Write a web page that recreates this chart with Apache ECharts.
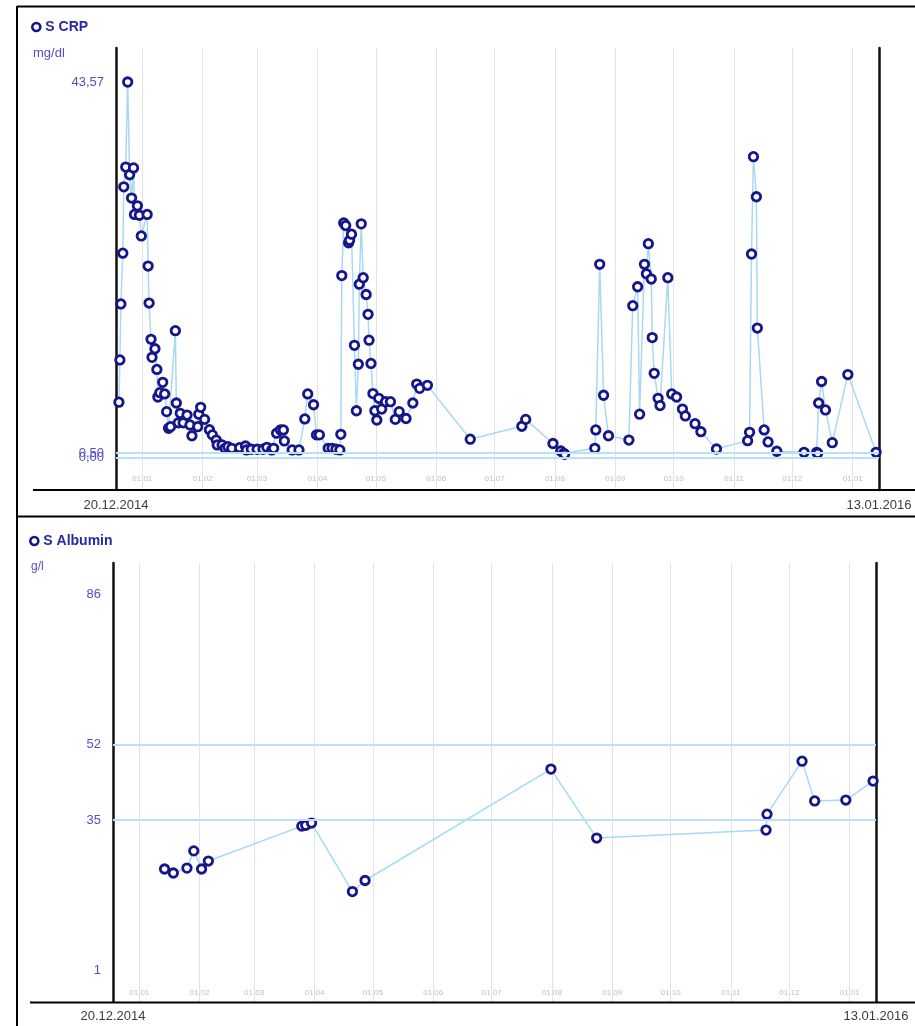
<!DOCTYPE html>
<html><head><meta charset="utf-8">
<script src="https://cdn.jsdelivr.net/npm/echarts@6/dist/echarts.min.js"></script>
<style>html,body{margin:0;padding:0;background:#fff}#c{width:915px;height:1026px}</style>
</head><body><div id="c"></div>
<script>
// ---------- DATA ----------
const crpDates = [
 '2014-12-20','2014-12-20 12:00','2014-12-21','2014-12-22','2014-12-22 12:00','2014-12-23 12:00','2014-12-24 12:00','2014-12-25 12:00','2014-12-26 12:00','2014-12-27 12:00',
 '2014-12-28','2014-12-29 12:00','2014-12-30 12:00','2014-12-31 12:00','2015-01-03 12:00','2015-01-04','2015-01-04 12:00','2015-01-05 12:00','2015-01-06','2015-01-07 12:00',
 '2015-01-08 12:00','2015-01-09','2015-01-10','2015-01-11 12:00','2015-01-12 12:00','2015-01-13 12:00','2015-01-14 12:00','2015-01-15 12:00','2015-01-18','2015-01-18 12:00',
 '2015-01-19 12:00','2015-01-20 12:00','2015-01-22','2015-01-24','2015-01-25 12:00','2015-01-26 12:00','2015-01-29 12:00','2015-01-30','2015-01-31','2015-02-02',
 '2015-02-04 12:00','2015-02-06','2015-02-08','2015-02-08 12:00','2015-02-11','2015-02-12 12:00','2015-02-14','2015-02-16','2015-02-20','2015-02-23',
 '2015-02-23 12:00','2015-02-26','2015-03-01','2015-03-04','2015-03-06','2015-03-08 12:00','2015-03-09 12:00','2015-03-11','2015-03-13','2015-03-14 12:00',
 '2015-03-15','2015-03-19','2015-03-22 12:00','2015-03-25 12:00','2015-03-27','2015-03-30','2015-03-31 12:00','2015-04-02','2015-04-06 12:00','2015-04-08 12:00',
 '2015-04-10 12:00','2015-04-12 12:00','2015-04-13','2015-04-13 12:00','2015-04-14 12:00','2015-04-15 12:00','2015-04-17','2015-04-17 12:00','2015-04-18 12:00','2015-04-20',
 '2015-04-21','2015-04-22','2015-04-22 12:00','2015-04-23 12:00','2015-04-24 12:00','2015-04-26','2015-04-27','2015-04-27 12:00','2015-04-28 12:00','2015-04-29 12:00',
 '2015-04-30 12:00','2015-05-01 12:00','2015-05-02 12:00','2015-05-04','2015-05-06','2015-05-08 12:00','2015-05-11','2015-05-13','2015-05-16 12:00','2015-05-20',
 '2015-05-22','2015-05-23 12:00','2015-05-27 12:00','2015-06-18 12:00','2015-07-15','2015-07-17','2015-07-31','2015-08-04','2015-08-05 12:00','2015-08-06',
 '2015-08-21 12:00','2015-08-22','2015-08-24','2015-08-26','2015-08-28 12:00','2015-09-08','2015-09-10','2015-09-12 12:00','2015-09-13 12:00','2015-09-16',
 '2015-09-17','2015-09-18','2015-09-19 12:00','2015-09-20','2015-09-21','2015-09-23','2015-09-24','2015-09-28','2015-09-30','2015-10-02 12:00',
 '2015-10-05 12:00','2015-10-07','2015-10-12','2015-10-15','2015-10-23','2015-11-08','2015-11-09','2015-11-10','2015-11-11','2015-11-12 12:00',
 '2015-11-13','2015-11-16 12:00','2015-11-18 12:00','2015-11-23','2015-12-07','2015-12-13 12:00','2015-12-14','2015-12-14 12:00','2015-12-16','2015-12-18',
 '2015-12-21 12:00','2015-12-29 12:00','2016-01-13'
];
const crpValues = [
 6.4,11.3,17.8,23.7,31.4,33.7,43.57,32.8,30.1,33.6,
 28.2,29.2,28.1,25.7,28.2,22.2,17.9,13.7,11.6,12.6,
 10.2,7.0,7.5,8.7,7.35,5.3,3.37,3.55,14.7,6.3,
 4.0,5.1,4.0,4.9,3.75,2.5,3.55,5.0,5.8,4.4,
 3.2,2.6,2.0,1.43,1.43,1.04,1.23,1.04,1.11,1.31,
 0.85,0.93,0.93,0.93,1.16,0.85,1.04,2.8,3.17,3.17,
 1.9,0.85,0.85,4.45,7.35,6.1,2.6,2.6,1.04,1.04,
 0.93,0.85,2.67,21.1,27.2,26.9,24.9,25.2,25.9,13.0,
 5.4,10.8,20.1,27.1,20.85,18.9,16.6,13.6,10.9,7.4,
 5.4,4.33,6.85,5.6,6.45,6.45,4.4,5.3,4.5,6.3,
 8.5,8.0,8.35,2.1,3.6,4.4,1.6,0.73,0.46,0.35,
 1.04,3.17,22.4,7.2,2.5,2.0,17.6,19.8,5.0,22.4,
 21.3,24.8,20.7,13.9,9.75,6.85,6.0,20.85,7.35,7.0,
 5.6,4.8,3.9,2.97,0.96,1.93,2.9,23.6,34.9,30.25,
 15.0,3.17,1.78,0.7,0.58,0.58,0.46,6.3,8.8,5.5,
 1.7,9.6,0.58
];
const crpRefRange = [0, 0.5];
const crpTickValues = [0, 43.57];
const crpExtraTickValues = [0.5];

const albDates = [
 '2015-01-14','2015-01-18 12:00','2015-01-25 12:00','2015-01-29','2015-02-02','2015-02-05 12:00',
 '2015-03-25 12:00','2015-03-27 12:00','2015-03-30 12:00','2015-04-20 12:00','2015-04-27',
 '2015-07-31 12:00','2015-08-24','2015-11-19','2015-11-19 12:00','2015-12-07 12:00','2015-12-14',
 '2015-12-30','2016-01-13'
];
const albValues = [23.9,23.0,24.1,28.0,23.9,25.7,33.6,33.8,34.3,18.8,21.3,46.5,30.9,32.7,36.3,48.3,39.3,39.5,43.8];
const albRefRange = [35, 52];
const albTickValues = [1, 35, 52, 86];

const monthTicks = ['2015-01-01','2015-02-01','2015-03-01','2015-04-01','2015-05-01','2015-06-01','2015-07-01',
 '2015-08-01','2015-09-01','2015-10-01','2015-11-01','2015-12-01','2016-01-01'];
const rangeLabels = ['20.12.2014', '13.01.2016'];
const axisStart = '2014-12-18 12:00', axisEnd = '2016-01-14 12:00';

// ---------- HELPERS ----------
function toTime(s){
  const parts = s.split(' ');
  const d = parts[0].split('-').map(Number);
  const t = (parts[1] || '0:0').split(':').map(Number);
  return new Date(d[0], d[1]-1, d[2], t[0], t[1]).getTime();
}
function pad(n){ return n < 10 ? '0' + n : '' + n; }
function monthFmt(v){ const d = new Date(v); return pad(d.getDate()) + '.' + pad(d.getMonth()+1); }

const tMin = toTime(axisStart), tMax = toTime(axisEnd);
const monthTimes = monthTicks.map(toTime);
const crpData = crpDates.map((d, i) => [toTime(d), crpValues[i]]);
const albData = albDates.map((d, i) => [toTime(d), albValues[i]]);

const FONT = '"Liberation Sans", Arial, sans-serif';
const NAVY = '#16168c';
const LINE = '#a6daf1';
const REF = '#b8e1f5';
const LABEL = '#5050c4';
const crpFmt = v => v.toFixed(2).replace('.', ',');

function xAxes(gridIndex, monthMargin, dateMargin){
  return [
    { type:'value', gridIndex, min:tMin, max:tMax, scale:true,
      axisLine:{show:false, onZero:false},
      axisTick:{show:false, customValues: monthTimes},
      splitLine:{show:true, lineStyle:{color:'#e3e3e3', width:1}},
      axisLabel:{inside:true, margin:monthMargin, customValues: monthTimes, formatter: monthFmt,
                 fontSize:8, color:'#c0c0c0', fontFamily:FONT} },
    { type:'value', gridIndex, position:'bottom', min:tMin, max:tMax, scale:true,
      axisLine:{show:false, onZero:false},
      axisTick:{show:false, customValues:[tMin, tMax]},
      splitLine:{show:false},
      axisLabel:{margin:dateMargin, customValues:[tMin, tMax],
                 formatter: v => (v <= tMin + 1000 ? rangeLabels[0] : rangeLabels[1]),
                 fontSize:13, color:'#3c3c3c', fontFamily:FONT, showMinLabel:true, showMaxLabel:true} }
  ];
}
function labelAxis(gridIndex, min, max, ticks, fmt, showLine, position){
  return { type:'value', gridIndex, position: position || 'left', min, max, offset:0,
    axisLine:{show:showLine, onZero:false, lineStyle:{color:'#111', width:2.5}},
    axisTick:{show:false, customValues: ticks},
    splitLine:{show:false},
    axisLabel:{show: !!ticks, customValues: ticks || undefined, formatter: fmt, margin:12, fontSize:13, color:LABEL,
               fontFamily:FONT, showMinLabel:true, showMaxLabel:true, hideOverlap:false} };
}
function lineSeries(name, xi, yi, data, refs){
  return { type:'line', name, xAxisIndex:xi, yAxisIndex:yi, data,
    symbol:'circle', symbolSize:8.5, showAllSymbol:true,
    lineStyle:{color:LINE, width:1.5},
    itemStyle:{color:'#fff', borderColor:NAVY, borderWidth:2.8},
    emphasis:{disabled:true},
    markLine:{silent:true, symbol:'none', label:{show:false},
      lineStyle:{color:REF, width:2, type:'solid'},
      data: refs.map(v => ({yAxis:v}))},
    z:3 };
}
function legendFor(name, left, top){
  return { data:[{name, icon:'circle', itemStyle:{color:'#fff', borderColor:NAVY, borderWidth:2.6}}],
    left, top, padding:0, itemWidth:8, itemHeight:8, selectedMode:false,
    textStyle:{fontSize:14, fontWeight:'bold', color:'#2828a2', fontFamily:FONT} };
}
function hline(x1, y, x2){ return {type:'line', shape:{x1, y1:y, x2, y2:y}, style:{stroke:'#000', lineWidth:2}, z:10}; }

const CRP_MIN = -3.80, CRP_MAX = 47.52, ALB_MIN = -6.19, ALB_MAX = 93.13;

const chart = echarts.init(document.getElementById('c'), null, {renderer:'canvas'});
chart.setOption({
  animation:false,
  textStyle:{fontFamily:FONT},
  title:[
    {text:'mg/dl', left:33, top:47, padding:0, textStyle:{fontSize:13, fontWeight:'normal', color:LABEL, fontFamily:FONT}},
    {text:'g/l', left:31, top:561, padding:0, textStyle:{fontSize:12, fontWeight:'normal', color:LABEL, fontFamily:FONT}}
  ],
  legend:[ legendFor('S CRP', 31, 20), legendFor('S Albumin', 29, 534) ],
  grid:[
    {left:116, right:36, top:48, height:442},
    {left:113, right:39, top:563, height:439}
  ],
  xAxis:[].concat(xAxes(0, 7, 8.5), xAxes(1, 5, 7.5)),
  yAxis:[
    labelAxis(0, CRP_MIN, CRP_MAX, crpTickValues, crpFmt, true, 'left'),
    labelAxis(0, CRP_MIN, CRP_MAX, null, null, true, 'right'),
    labelAxis(0, CRP_MIN, CRP_MAX, crpExtraTickValues, crpFmt, false, 'left'),
    labelAxis(1, ALB_MIN, ALB_MAX, albTickValues, v => String(Math.round(v)), true, 'left'),
    labelAxis(1, ALB_MIN, ALB_MAX, null, null, true, 'right')
  ],
  series:[
    lineSeries('S CRP', 0, 0, crpData, crpRefRange),
    lineSeries('S Albumin', 2, 3, albData, albRefRange)
  ],
  graphic:[
    {type:'line', shape:{x1:17, y1:6, x2:17, y2:1026}, style:{stroke:'#000', lineWidth:2}, z:10},
    hline(17, 6.5, 915),
    hline(17, 516.5, 915),
    hline(33, 490, 915),
    hline(30, 1002.5, 915)
  ]
});
</script>
</body></html>
